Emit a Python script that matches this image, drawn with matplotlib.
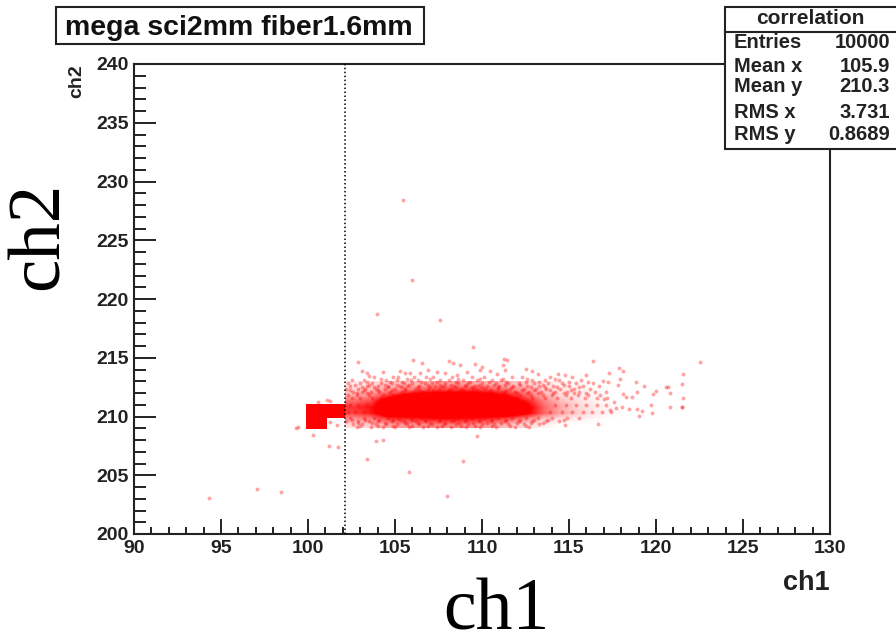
import matplotlib
matplotlib.use('Agg')
from matplotlib import pyplot as plt
from matplotlib.colors import LinearSegmentedColormap
from matplotlib.lines import Line2D
from matplotlib.patches import Rectangle
import numpy as np

W, H = 896, 634

title = "mega sci2mm fiber1.6mm"
stat_names = ["Entries", "Mean x", "Mean y", "RMS x", "RMS y"]
stat_values = ["10000", "105.9", "210.3", "3.731", "0.8689"]
cut_ch1 = 102.1

# solid block left of the cut: left edge, width, lower edge, height
block_left = [99.9, 99.9]
block_width = [2.2, 1.2]
block_low = [209.9, 208.9]
block_height = [1.2, 1.1]

# density read by eye, ch1 102..118 in 1 wide cells, ch2 213 down to 209
density = [
    [.05, .10, .15, .18, .22, .28, .28, .25, .22, .20, .15, .08, .04, .02, 0, 0],
    [.12, .20, .30, .38, .48, .55, .58, .58, .50, .40, .28, .15, .08, .04, .02, 0],
    [.25, .35, .60, .85, 1, 1, 1, 1, .90, .70, .45, .25, .12, .06, .03, 0],
    [.45, .55, 1, 1, 1, 1, 1, 1, 1, 1, .70, .38, .20, .10, .04, 0],
    [.60, .70, 1, 1, 1, 1, 1, 1, 1, 1, .85, .45, .25, .12, .06, .02],
    [.55, .65, 1, 1, 1, 1, 1, 1, 1, 1, .80, .45, .25, .14, .06, .02],
    [.30, .35, .55, .60, .65, .70, .70, .65, .60, .48, .30, .15, .08, .04, .02, 0],
    [.10, .15, .25, .30, .32, .35, .35, .32, .28, .18, .10, .04, 0, 0, 0, 0],
]

# single points, scattered ones away from the core
far_x = [105.46, 105.98, 103.97, 107.6, 94.3, 97.07, 98.45, 108.0, 108.9, 105.8,
         103.4, 99.45, 100.27, 101.23, 101.75, 104.33, 109.5, 99.3, 101.08, 101.27,
         100.6, 101.27, 101.65, 103.9, 109.7]
far_y = [228.4, 221.6, 218.7, 218.2, 203.06, 203.8, 203.6, 203.2, 206.2, 205.3,
         206.4, 209.1, 208.45, 207.46, 207.4, 208.0, 215.9, 209.0, 211.4, 211.35,
         211.2, 209.56, 209.27, 207.9, 208.3]

top_x = [102.9, 106.06, 106.58, 108.1, 108.36, 108.74, 109.6, 109.99, 103.1, 103.38,
         103.5, 104.3, 105.29, 105.58, 105.87, 106.44, 106.92, 107.4, 107.88, 108.55,
         109.12, 109.9, 110.46, 110.85, 111.26, 111.42, 111.23, 111.32, 112.53, 112.85,
         113.24, 114.39, 114.77, 116.36, 122.53, 117.89, 118.12, 117.32, 121.57, 115.96,
         116.97, 117.26, 116.11, 117.93, 117.84, 118.85, 119.31, 120.71, 121.48, 118.89,
         120.0, 119.85, 120.8, 118.12, 118.28, 118.6, 121.53, 117.59, 117.01, 119.71,
         120.8, 121.48, 118.03, 118.47, 118.89, 119.18, 119.75, 119.02, 117.7, 117.36,
         116.69, 114.77, 120.6, 121.5]
top_y = [214.6, 214.8, 214.58, 214.75, 214.53, 214.4, 214.44, 214.24, 213.9, 213.67,
         213.45, 213.8, 213.9, 213.67, 213.73, 213.73, 214.0, 213.8, 213.67, 213.53,
         213.8, 213.96, 213.9, 213.62, 214.87, 214.81, 214.41, 214.0, 214.07, 213.9,
         213.6, 213.6, 213.5, 214.75, 214.67, 214.1, 213.9, 213.73, 213.62, 213.5,
         213.05, 212.9, 212.9, 213.2, 212.68, 212.9, 212.6, 212.54, 212.74, 212.1,
         212.2, 211.9, 212.03, 211.9, 211.7, 211.7, 211.55, 211.26, 211.46, 210.98,
         210.84, 210.78, 210.84, 210.6, 210.6, 210.5, 210.33, 210.04, 210.7, 210.55,
         209.36, 209.28, 212.5, 210.8]

# halo around the core, one list of ch1 per ch2 level
halo_y = [213.35, 213.1, 212.85, 212.6, 212.35, 212.1, 211.85, 211.6,
          209.85, 209.6, 209.35, 209.1, 210.4, 211.0,
          213.22, 212.97, 212.72, 212.47, 212.22, 211.97, 209.72, 209.47, 209.22]
halo_x = [
    [103.8, 104.9, 105.2, 106.1, 106.8, 107.2, 108.3, 109.4, 110.1, 111.7, 112.3, 113.9, 115.2],
    [102.5, 103.2, 104.5, 105.1, 105.9, 106.3, 107.6, 108.1, 108.9, 109.7, 110.6, 111.1, 112.9, 113.6, 114.4, 115.7],
    [102.3, 103.0, 103.7, 104.2, 104.8, 105.5, 106.0, 106.7, 107.1, 107.9, 108.6, 109.2, 110.0, 110.8, 111.5, 112.1, 113.0, 113.8, 114.6, 115.4, 116.4],
    [102.4, 103.4, 104.0, 104.6, 105.3, 105.7, 106.4, 107.3, 107.8, 108.4, 109.0, 109.6, 110.3, 111.0, 111.8, 112.6, 113.3, 114.1, 115.0, 115.8, 116.7],
    [102.2, 102.9, 103.3, 103.9, 104.4, 105.0, 105.6, 106.2, 106.9, 107.5, 108.2, 108.8, 109.5, 110.2, 110.9, 111.6, 112.4, 113.1, 113.7, 114.5, 115.3, 116.2],
    [102.6, 103.1, 103.6, 104.1, 104.7, 105.4, 106.1, 106.6, 107.4, 108.0, 108.7, 109.3, 110.4, 111.2, 111.9, 112.7, 113.4, 114.2, 114.9, 115.6, 116.5, 117.1],
    [102.3, 102.8, 103.5, 104.3, 104.9, 111.4, 112.2, 112.8, 113.5, 114.0, 114.8, 115.5, 116.1, 116.8],
    [102.5, 103.0, 103.7, 104.2, 112.0, 112.9, 113.6, 114.3, 115.1, 115.9, 116.6, 117.2],
    [102.4, 103.2, 103.8, 104.6, 105.2, 105.9, 106.5, 107.2, 107.9, 108.6, 109.4, 110.1, 110.9, 111.7, 112.5, 113.2, 114.0, 114.9, 115.6],
    [102.2, 102.9, 103.5, 104.0, 104.8, 105.5, 106.2, 106.8, 107.5, 108.3, 109.0, 109.8, 110.5, 111.3, 112.1, 112.9, 113.7, 114.4],
    [102.6, 103.1, 103.9, 104.5, 105.1, 105.7, 106.4, 107.1, 107.8, 108.5, 109.2, 110.0, 110.7, 111.5, 112.4, 113.3],
    [102.8, 103.6, 104.3, 105.0, 105.8, 106.6, 107.4, 108.2, 109.1, 109.9, 110.8, 111.9, 112.7],
    [102.3, 102.7, 103.2, 103.6, 113.9, 114.6, 115.2, 115.8, 116.3, 116.9, 117.4],
    [102.4, 102.9, 103.4, 114.2, 114.8, 115.4, 116.0, 116.6, 117.1],
    [104.2, 105.7, 107.0, 108.6, 109.9, 111.2, 112.6, 114.2],
    [103.4, 104.7, 105.4, 106.5, 107.4, 108.5, 109.3, 110.4, 111.4, 112.5, 113.3, 115.0],
    [102.7, 103.5, 104.4, 105.1, 105.8, 106.9, 107.6, 108.2, 109.1, 109.8, 110.7, 111.3, 112.2, 113.5, 114.7],
    [103.1, 103.8, 104.6, 105.4, 106.3, 107.0, 107.7, 108.5, 109.4, 110.0, 110.9, 111.7, 112.8, 113.6, 114.3, 115.6],
    [102.4, 103.2, 104.0, 104.8, 105.6, 106.4, 107.2, 108.1, 108.9, 109.7, 110.5, 111.4, 112.3, 113.0, 113.9, 115.1],
    [102.8, 103.4, 110.6, 111.3, 112.0, 112.6, 113.2, 114.1, 114.7, 115.3, 116.0],
    [102.5, 103.3, 104.1, 104.9, 105.3, 106.0, 106.7, 107.6, 108.4, 109.1, 109.9, 110.6, 111.4, 112.2, 113.0, 113.8, 114.7],
    [102.9, 103.7, 104.4, 105.6, 106.3, 107.0, 107.9, 108.7, 109.5, 110.3, 111.1, 112.0, 112.8, 113.5],
    [103.0, 104.0, 104.9, 106.0, 106.9, 107.7, 108.8, 109.6, 110.6, 111.6, 112.5],
]

plt.rcParams['font.family'] = ['Liberation Sans', 'DejaVu Sans']
ink = '#222222'


def px(x):
    return x / W


def py(y):
    return 1 - y / H


def fig_line(x0, y0, x1, y1, lw=1.5):
    fig.add_artist(Line2D([px(x0), px(x1)], [py(y0), py(y1)], color=ink, lw=lw, zorder=5))


fig = plt.figure(figsize=(W / 100, H / 100), dpi=100)
ax = fig.add_axes([px(134), py(534), px(830) - px(134), py(64) - py(534)])

white_red = LinearSegmentedColormap.from_list('white_red', ['#ffffff', '#ff0000'])
ax.imshow(density, extent=[102.1, 118, 209, 213], cmap=white_red, vmin=0, vmax=0.75,
          interpolation='bilinear', aspect='auto', zorder=1)
ax.bar(block_left, block_height, width=block_width, bottom=block_low, align='edge',
       color='#ff0000', linewidth=0, zorder=2)

ax.scatter(far_x + top_x, far_y + top_y, s=8, c='#ff0000', alpha=0.35, linewidths=0, zorder=3)
for y, xs in zip(halo_y, halo_x):
    ax.scatter(xs, [y] * len(xs), s=8, c='#ff0000', alpha=0.35, linewidths=0, zorder=3)

ax.axvline(cut_ch1, color='black', lw=1.1, ls=(0, (1, 1.6)), zorder=4)

ax.set_xlim(90, 130)
ax.set_ylim(200, 240)
ax.set_xticks(np.arange(90, 131, 5))
ax.set_xticks(np.arange(90, 131, 1), minor=True)
ax.set_yticks(np.arange(200, 241, 5))
ax.set_yticks(np.arange(200, 241, 1), minor=True)
ax.tick_params(axis='x', which='major', direction='in', length=11, width=1.4, color=ink,
               labelsize=14, labelcolor=ink, pad=4)
ax.tick_params(axis='x', which='minor', direction='in', length=5, width=1.4, color=ink)
ax.tick_params(axis='y', which='major', direction='in', length=16, width=1.4, color=ink,
               labelsize=14, labelcolor=ink, pad=4)
ax.tick_params(axis='y', which='minor', direction='in', length=8.5, width=1.4, color=ink)
for lab in ax.get_xticklabels() + ax.get_yticklabels():
    lab.set_fontweight('bold')
for sp in ax.spines.values():
    sp.set_linewidth(1.5)
    sp.set_color(ink)

# small axis titles
fig.text(px(830), py(590), 'ch1', fontsize=19.5, fontweight='bold', ha='right', va='baseline', color=ink)
fig.text(px(85), py(81), 'ch2', fontsize=14, fontweight='bold', ha='right', va='center', rotation=90, color=ink)

# big serif labels pasted over the plot
fig.text(px(496), py(630), 'ch1', fontsize=53, family='Liberation Serif', ha='center', va='baseline', color='black')
fig.text(px(74), py(236), 'ch2', fontsize=54, family='Liberation Serif', ha='right', va='center',
         rotation=90, color='black')

# title box
fig.add_artist(Rectangle((px(56), py(44)), px(424) - px(56), py(7) - py(44), transform=fig.transFigure,
                         facecolor='white', edgecolor=ink, lw=1.5))
fig.text(px(239), py(28), title, fontsize=20.5, fontweight='bold', ha='center', va='center', color='#111111')

# stats box
fig.add_artist(Rectangle((px(725), py(149)), px(900) - px(725), py(7) - py(149), transform=fig.transFigure,
                         facecolor='white', edgecolor=ink, lw=1.5, zorder=4))
fig_line(725, 32, 896, 32, lw=1.5)
fig.text(px(810), py(18), 'correlation', fontsize=15, fontweight='bold', ha='center', va='center', color=ink, zorder=6)
stat_rows = [43, 66, 87, 113, 135]
for name, val, row in zip(stat_names, stat_values, stat_rows):
    fig.text(px(734), py(row), name, fontsize=14.5, fontweight='bold', ha='left', va='center', color=ink, zorder=6)
    fig.text(px(890), py(row), val, fontsize=14.5, fontweight='bold', ha='right', va='center', color=ink, zorder=6)

fig.savefig('out.png', dpi=100)
